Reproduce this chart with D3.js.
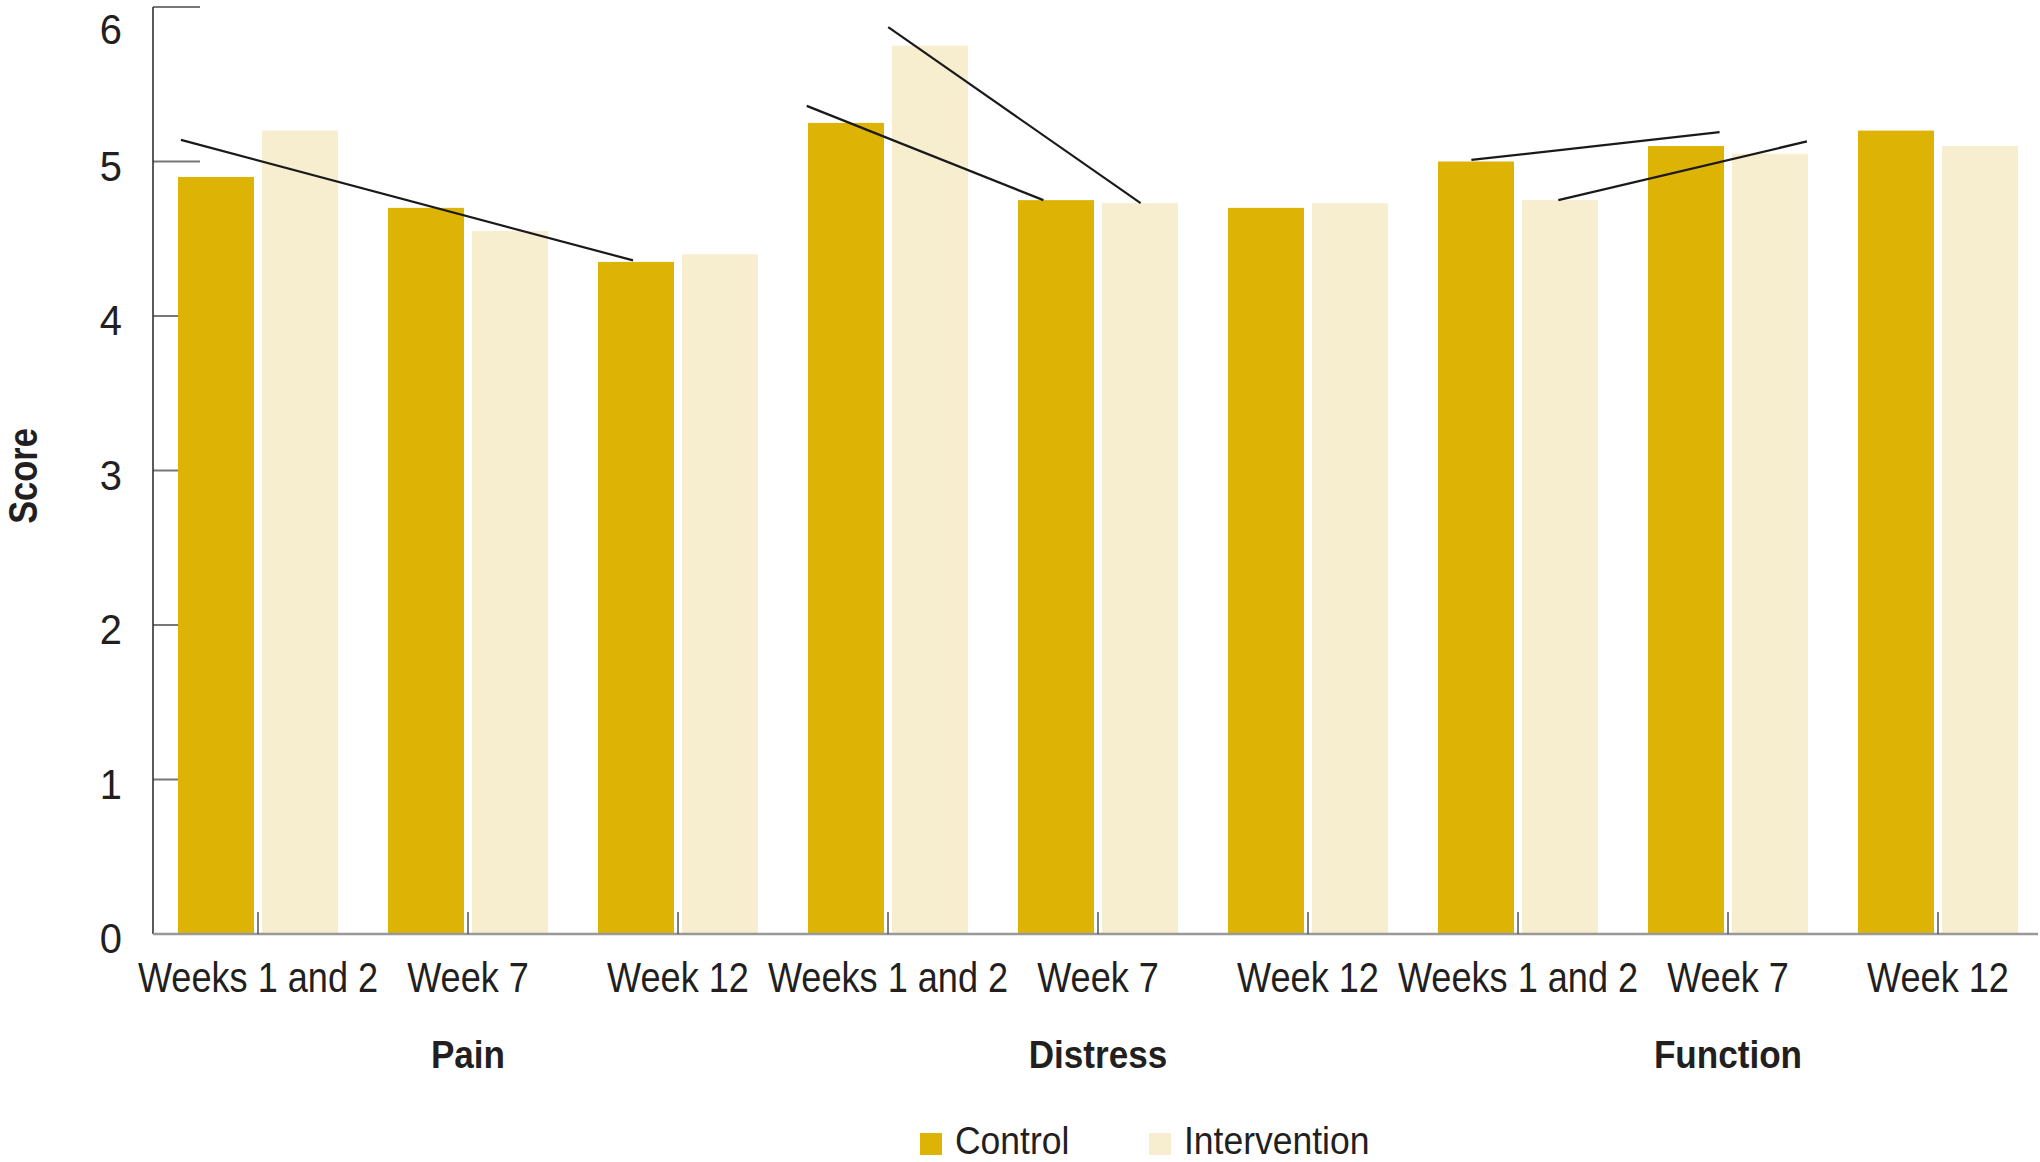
<!DOCTYPE html>
<html>
<head>
<meta charset="utf-8">
<script src="https://cdn.jsdelivr.net/npm/d3@7"></script>
<style>
  html, body { margin: 0; padding: 0; background: #fff; }
  svg { display: block; }
  text { font-family: "Liberation Sans", Arial, sans-serif; fill: #231f20; }
</style>
</head>
<body>
<svg id="chart" width="2040" height="1162"></svg>
<script>
// ---- data ----
const timepoints = ["Weeks 1 and 2", "Week 7", "Week 12"];
const measures = ["Pain", "Distress", "Function"];
const categories = ["Pain|Weeks 1 and 2", "Pain|Week 7", "Pain|Week 12",
                    "Distress|Weeks 1 and 2", "Distress|Week 7", "Distress|Week 12",
                    "Function|Weeks 1 and 2", "Function|Week 7", "Function|Week 12"];
const seriesNames = ["Control", "Intervention"];
const controlValues = [4.9, 4.7, 4.35, 5.25, 4.75, 4.7, 5.0, 5.1, 5.2];
const interventionValues = [5.2, 4.55, 4.4, 5.75, 4.73, 4.73, 4.75, 5.05, 5.1];
const yTicks = [0, 1, 2, 3, 4, 5, 6];
// trend lines: [category position (in category units), score]
const trendStart = [[0.133, 5.14], [3.113, 5.36], [3.501, 5.87], [6.278, 5.01], [6.692, 4.75]];
const trendEnd   = [[2.286, 4.36], [4.240, 4.75], [4.703, 4.73], [7.460, 5.19], [7.876, 5.13]];

const colors = { Control: "#ddb406", Intervention: "#f7eecf" };

(function () {
const svg = d3.select("#chart");
const mLeft = 153, mRight = 2043, mTop = 7, mBottom = 934;

const x = d3.scaleBand().domain(categories).range([mLeft, mRight])
  .paddingInner(50 / 210).paddingOuter(25 / 210);
const xSub = d3.scaleBand().domain(seriesNames).range([0, x.bandwidth()]).paddingInner(8 / 84);
const xPos = d3.scaleLinear().domain([0, categories.length]).range([mLeft, mRight]);
const y = d3.scaleLinear().domain([0, 6]).range([mBottom, mTop]);

// condensed text helper
const cond = (sel, fx, fy, sx) => sel.attr("transform", (d, i) => `translate(${fx(d, i)},${fy(d, i)}) scale(${sx},1)`);

// y ticks (under bars)
svg.append("g").selectAll("line").data(yTicks).join("line")
  .attr("x1", mLeft).attr("x2", mLeft + 47)
  .attr("y1", d => y(d)).attr("y2", d => y(d))
  .attr("stroke", "#777").attr("stroke-width", 2);

// y tick labels
svg.append("g").selectAll("text").data(yTicks).join("text")
  .call(cond, () => 122, d => Math.max(y(d) + 4, 29) + 15, 0.95)
  .attr("text-anchor", "end").attr("font-size", 42)
  .text(d => d);

// bars
const rows = categories.map((c, i) => ({ cat: c, values: [controlValues[i], interventionValues[i]] }));
const groups = svg.append("g").selectAll("g").data(rows).join("g")
  .attr("transform", d => `translate(${x(d.cat)},0)`);
groups.selectAll("rect").data(d => seriesNames.map((s, j) => ({ s, v: d.values[j] }))).join("rect")
  .attr("x", d => xSub(d.s)).attr("width", xSub.bandwidth())
  .attr("y", d => y(d.v)).attr("height", d => y(0) - y(d.v))
  .attr("fill", d => colors[d.s]);

// y axis line
svg.append("line").attr("x1", mLeft).attr("x2", mLeft).attr("y1", mTop).attr("y2", mBottom)
  .attr("stroke", "#333").attr("stroke-width", 1.6);

// x axis line
svg.append("line").attr("x1", mLeft).attr("x2", 2038).attr("y1", mBottom).attr("y2", mBottom)
  .attr("stroke", "#999").attr("stroke-width", 2.5);

// small x ticks at group centers
svg.append("g").selectAll("line").data(categories).join("line")
  .attr("x1", d => x(d) + x.bandwidth() / 2).attr("x2", d => x(d) + x.bandwidth() / 2)
  .attr("y1", mBottom).attr("y2", mBottom - 22)
  .attr("stroke", "#555").attr("stroke-width", 1.5);

// x tick labels
svg.append("g").selectAll("text").data(categories).join("text")
  .call(cond, d => x(d) + x.bandwidth() / 2, () => 992, 0.86)
  .attr("text-anchor", "middle").attr("font-size", 42)
  .text(d => d.split("|")[1]);

// measure labels
svg.append("g").selectAll("text").data(measures).join("text")
  .call(cond, (m, i) => x(categories[i * 3 + 1]) + x.bandwidth() / 2, () => 1068, 0.9)
  .attr("text-anchor", "middle")
  .attr("font-size", 39).attr("font-weight", "bold")
  .text(d => d);

// trend lines
svg.append("g").selectAll("line").data(trendStart).join("line")
  .attr("x1", d => xPos(d[0])).attr("y1", d => y(d[1]))
  .attr("x2", (d, i) => xPos(trendEnd[i][0])).attr("y2", (d, i) => y(trendEnd[i][1]))
  .attr("stroke", "#1a1a1a").attr("stroke-width", 2.2);

// y axis title
svg.append("text").attr("transform", "translate(37,476) rotate(-90) scale(0.84,1)")
  .attr("text-anchor", "middle").attr("font-size", 41).attr("font-weight", "bold")
  .text("Score");

// legend
const legendX = [920, 1149];
const leg = svg.append("g").selectAll("g").data(seriesNames).join("g")
  .attr("transform", (d, i) => `translate(${legendX[i]},1133)`);
leg.append("rect").attr("width", 22).attr("height", 22).attr("fill", d => colors[d]);
leg.append("text").attr("transform", "translate(35,21) scale(0.91,1)")
  .attr("font-size", 39).text(d => d);
})();
</script>
</body>
</html>
